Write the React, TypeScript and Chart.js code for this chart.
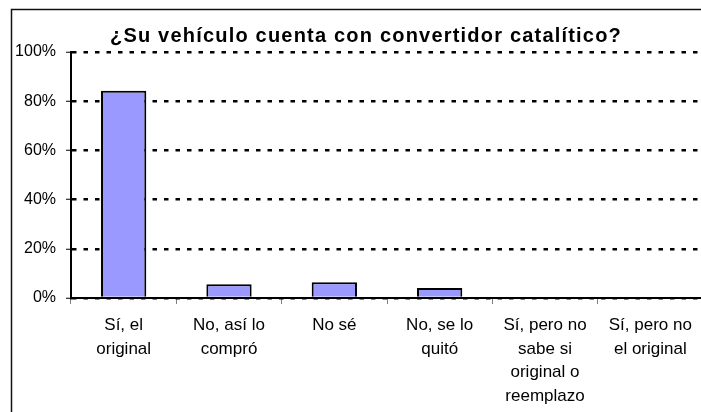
import React, { useEffect, useRef } from "react";
import { Chart, registerables } from "chart.js";

Chart.register(...registerables);

const titleText = "¿Su vehículo cuenta con convertidor catalítico?";
const categories: string[][] = [
  ["Sí, el", "original"],
  ["No, así lo", "compró"],
  ["No sé"],
  ["No, se lo", "quitó"],
  ["Sí, pero no", "sabe si", "original o", "reemplazo"],
  ["Sí, pero no", "el original"],
];
const values: number[] = [0.842, 0.056, 0.064, 0.041, 0, 0];
const yTicks: number[] = [0, 0.2, 0.4, 0.6, 0.8, 1.0];

const FONT = "'Liberation Sans', Arial, sans-serif";

const framePlugin = {
  id: "frameAndTitle",
  afterDraw(chart: any) {
    const ctx = chart.ctx as CanvasRenderingContext2D;
    ctx.save();
    ctx.strokeStyle = "#111";
    ctx.lineWidth = 1.5;
    ctx.beginPath();
    ctx.moveTo(11.5, 420);
    ctx.lineTo(11.5, 9.5);
    ctx.lineTo(730, 9.5);
    ctx.stroke();
    ctx.fillStyle = "#000";
    ctx.font = `bold 20px ${FONT}`;
    (ctx as any).letterSpacing = "1.2px";
    ctx.textAlign = "center";
    ctx.textBaseline = "alphabetic";
    ctx.fillText(titleText, 366, 42);
    ctx.restore();
  },
};

export default function App() {
  const ref = useRef<HTMLCanvasElement | null>(null);
  useEffect(() => {
    if (!ref.current) return;
    const chart = new Chart(ref.current, {
      type: "bar",
      data: {
        labels: categories,
        datasets: [
          {
            data: values,
            backgroundColor: "#9999FF",
            borderColor: "#000",
            borderWidth: 2,
            barPercentage: 0.43,
            categoryPercentage: 1,
          },
        ],
      },
      options: {
        animation: false,
        responsive: false,
        devicePixelRatio: 1,
        layout: { padding: { left: 0, right: 17, top: 52, bottom: 0 } },
        plugins: {
          legend: { display: false },
          title: { display: false },
          tooltip: { enabled: false },
        },
        scales: {
          x: {
            afterFit: (s: any) => {
              s.height = 114;
            },
            grid: {
              display: true,
              drawOnChartArea: false,
              drawTicks: true,
              tickLength: 6,
              color: "#808080",
              tickColor: "#808080",
              lineWidth: 1,
              offset: true,
            },
            border: { display: true, color: "#000", width: 2 },
            ticks: {
              autoSkip: false,
              maxRotation: 0,
              minRotation: 0,
              padding: 10,
              color: "#000",
              font: { family: FONT, size: 17, lineHeight: 1.38 },
            },
          },
          y: {
            min: 0,
            max: 1,
            afterFit: (s: any) => {
              s.width = 71;
            },
            afterBuildTicks: (s: any) => {
              s.ticks = yTicks.map((v) => ({ value: v }));
            },
            grid: {
              color: "#000",
              lineWidth: 2.5,
              tickLength: 5,
              tickColor: "#000",
              tickWidth: 1,
              tickBorderDash: [],
            },
            border: { display: true, color: "#000", width: 2, dash: [4.5, 7] },
            ticks: {
              padding: 10,
              color: "#000",
              font: { family: FONT, size: 16 },
              callback: (v: any) => `${Math.round(Number(v) * 100)}%`,
            },
          },
        },
      },
      plugins: [framePlugin],
    });
    return () => chart.destroy();
  }, []);
  return (
    <div
      style={{
        position: "fixed",
        left: 0,
        top: 0,
        width: 701,
        height: 412,
        overflow: "hidden",
        background: "#fff",
      }}
    >
      <canvas ref={ref} width={720} height={412} style={{ width: 720, height: 412, display: "block" }} />
    </div>
  );
}
